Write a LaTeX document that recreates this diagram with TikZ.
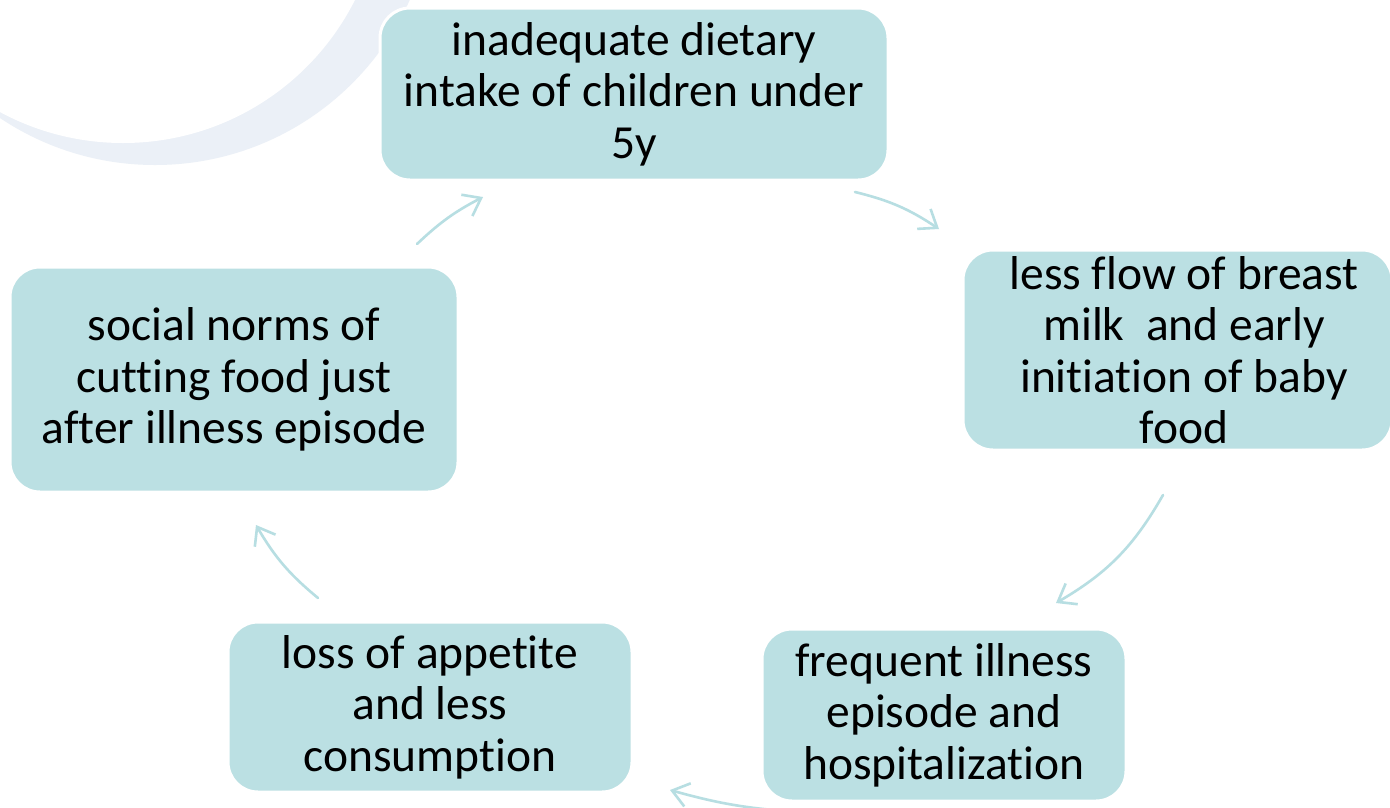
\documentclass[tikz,border=0pt]{standalone}
\usepackage{fontspec}
\setmainfont{Carlito}[Ligatures=NoCommon]
\usetikzlibrary{arrows.meta}
\definecolor{boxfill}{HTML}{BBE0E3}
\definecolor{arrowc}{HTML}{B7DEE2}
\definecolor{crescent}{HTML}{EBF0F7}
\begin{document}
\begin{tikzpicture}[x=1pt,y=-1pt,
  cyclebox/.style={rectangle, rounded corners=30pt, fill=boxfill, draw=white, line width=3pt, inner sep=0pt},
  txt/.style={font=\fontsize{47.5}{51.5}\selectfont, align=center, inner sep=0pt, text=black},
  cyclearrow/.style={draw=arrowc, line width=2.6pt, line cap=round, -{Straight Barb[length=16pt,width=24pt]}}]
\useasboundingbox (0,0) rectangle (1390,807);
\clip (0,0) rectangle (1390,807);
\fill[white] (0,0) rectangle (1390,807);
% background crescent
\fill[crescent] (155,-114) circle (279pt);
\fill[white] (123,-116.5) circle (259.5pt);
% boxes
\node[cyclebox, minimum width=508pt, minimum height=172pt] (top) at (634,94) {};
\node[cyclebox, minimum width=429pt, minimum height=200pt] (right) at (1177.5,350) {};
\node[cyclebox, minimum width=364pt, minimum height=172pt] (brt) at (944,715) {};
\node[cyclebox, minimum width=404pt, minimum height=170pt] (blt) at (430,707) {};
\node[cyclebox, minimum width=448pt, minimum height=225pt] (left) at (234,379.5) {};
% texts
\node[txt] (toptxt) at (top) {inadequate dietary\\intake of children under\\5y};
\node[txt] (righttxt) at (1184,350) {less flow of breast\\milk~ and early\\initiation of baby\\food};
\node[txt] (brttxt) at (brt) {frequent illness\\episode and\\hospitalization};
\node[txt] (blttxt) at (blt) {loss of appetite\\and less\\consumption};
\node[txt] (lefttxt) at (left) {social norms of\\cutting food just\\after illness episode};
% arrows
\coordinate (a1s) at (855,192); \coordinate (a1e) at (939,229);
\coordinate (a2s) at (1163,495); \coordinate (a2e) at (1056,603);
\coordinate (a3s) at (800,812); \coordinate (a3e) at (670,790);
\coordinate (a4s) at (318,598); \coordinate (a4e) at (256,525);
\coordinate (a5s) at (417,244); \coordinate (a5e) at (483,197);
\draw[cyclearrow] (a1s) to[bend left=10] (a1e);
\draw[cyclearrow] (a2s) to[bend left=15] (a2e);
\draw[cyclearrow] (a3s) to[bend left=6] (a3e);
\draw[cyclearrow] (a4s) to[bend left=10] (a4e);
\draw[cyclearrow] (a5s) to[bend left=8] (a5e);
\end{tikzpicture}
\end{document}
